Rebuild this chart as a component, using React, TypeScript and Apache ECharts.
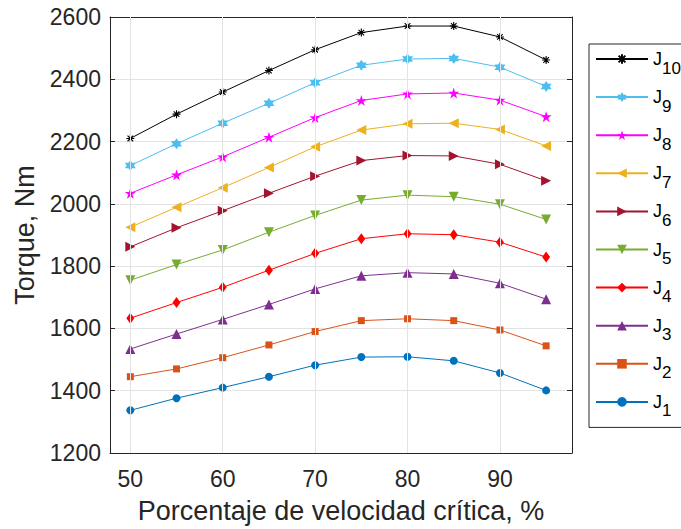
import React, { useEffect, useRef } from "react";
import * as echarts from "echarts";

const xValues = [50, 55, 60, 65, 70, 75, 80, 85, 90, 95];
const xTicks = [50, 60, 70, 80, 90];

const J1 = [1337, 1376, 1410, 1445, 1482, 1508, 1509, 1496, 1457, 1401];
const J2 = [1445, 1470, 1506, 1547, 1590, 1625, 1631, 1625, 1595, 1544];
const J3 = [1534, 1582, 1629, 1677, 1727, 1769, 1779, 1775, 1745, 1694];
const J4 = [1633, 1683, 1732, 1787, 1841, 1888, 1904, 1901, 1877, 1829];
const J5 = [1755, 1805, 1852, 1909, 1963, 2012, 2028, 2023, 1999, 1950];
const J6 = [1862, 1923, 1978, 2034, 2089, 2139, 2155, 2154, 2127, 2074];
const J7 = [1925, 1989, 2052, 2117, 2183, 2237, 2257, 2259, 2239, 2186];
const J8 = [2034, 2093, 2151, 2214, 2277, 2332, 2353, 2356, 2333, 2280];
const J9 = [2123, 2193, 2259, 2323, 2389, 2445, 2465, 2467, 2439, 2377];
const J10 = [2210, 2288, 2359, 2428, 2495, 2550, 2571, 2571, 2536, 2462];

const seriesNames = ["J1", "J2", "J3", "J4", "J5", "J6", "J7", "J8", "J9", "J10"];
const seriesValues = [J1, J2, J3, J4, J5, J6, J7, J8, J9, J10];
const seriesColors = [
  "#0072BD",
  "#D95319",
  "#7E2F8E",
  "#FF0000",
  "#77AC30",
  "#A2142F",
  "#EDB120",
  "#FF00FF",
  "#4DBEEE",
  "#000000",
];

const PENTAGRAM =
  "path://M10,0L12.245,6.91L19.511,6.91L13.633,11.18L15.878,18.09L10,13.82L4.122,18.09L6.367,11.18L0.489,6.91L7.755,6.91Z";
const HEXAGRAM =
  "path://M10,0L12.887,5L18.66,5L15.774,10L18.66,15L12.887,15L10,20L7.113,15L1.34,15L4.226,10L1.34,5L7.113,5Z";
const ASTERISK = "path://M5,0L5,10M0,5L10,5M1.5,1.5L8.5,8.5M1.5,8.5L8.5,1.5";

const seriesSymbols = [
  "circle",
  "rect",
  "triangle",
  "diamond",
  "path://M0,0L10,0L5,10Z",
  "path://M0,0L10,5L0,10Z",
  "path://M10,0L0,5L10,10Z",
  PENTAGRAM,
  HEXAGRAM,
  ASTERISK,
];
const seriesSymbolSizes: any[] = [8, 7, 10, [8, 11], 10, 10, 10, 11, 11, 8];

const FONT = "'Liberation Sans', Arial, Helvetica, sans-serif";
const AXIS_COLOR = "#262626";
const GRID_COLOR = "#e3e3e3";

export default function App() {
  const ref = useRef<HTMLDivElement>(null);
  useEffect(() => {
    if (!ref.current) return;
    const chart = echarts.init(ref.current, undefined, { renderer: "svg" });

    const lineSeries = seriesNames.map((name, i) => ({
      name,
      type: "line",
      xAxisIndex: 0,
      yAxisIndex: 0,
      data: xValues.map((x, k) => [x, seriesValues[i][k]]),
      symbol: seriesSymbols[i],
      symbolSize: seriesSymbolSizes[i],
      showSymbol: true,
      z: 3,
      lineStyle: { color: seriesColors[i], width: 1 },
      itemStyle:
        i === 9
          ? { color: seriesColors[i], borderColor: seriesColors[i], borderWidth: 1.1 }
          : { color: seriesColors[i], borderWidth: 0 },
      emphasis: { disabled: true },
    }));

    const gridSeries = {
      name: "grid",
      type: "line",
      xAxisIndex: 0,
      yAxisIndex: 0,
      data: [],
      z: 1,
      silent: true,
      markLine: {
        silent: true,
        symbol: ["none", "none"],
        label: { show: false },
        lineStyle: { color: GRID_COLOR, width: 1, type: "solid" },
        emphasis: { disabled: true },
        data: xTicks.map((x) => ({ xAxis: x })),
      },
    };

    const legendNames = [...seriesNames].reverse();

    chart.setOption({
      animation: false,
      backgroundColor: "#ffffff",
      textStyle: { fontFamily: FONT },
      grid: { left: 110, top: 17, width: 462, height: 436, containLabel: false },
      legend: {
        data: legendNames,
        orient: "vertical",
        left: 589,
        top: 44,
        itemWidth: 52,
        itemHeight: 12,
        itemGap: 11.6,
        padding: [6, 60, 8, 6],
        backgroundColor: "#ffffff",
        borderColor: AXIS_COLOR,
        borderWidth: 1,
        selectedMode: false,
        formatter: (name: string) => `{j|J}{s|${name.slice(1)}}`,
        textStyle: {
          fontFamily: FONT,
          color: "#000000",
          rich: {
            j: { fontSize: 18, fontFamily: FONT, color: "#000000" },
            s: { fontSize: 17, fontFamily: FONT, color: "#000000", padding: [18, 0, 0, 0] },
          },
        },
      },
      xAxis: [
        {
          type: "value",
          min: 47.8,
          max: 97.8,
          position: "bottom",
          name: "Porcentaje de velocidad crítica, %",
          nameLocation: "middle",
          nameGap: 44,
          nameTextStyle: { fontSize: 27, color: AXIS_COLOR, fontFamily: FONT },
          axisLine: { show: true, onZero: false, lineStyle: { color: AXIS_COLOR, width: 1 } },
          axisTick: {
            show: true,
            inside: true,
            length: 5,
            customValues: xTicks,
            lineStyle: { color: AXIS_COLOR },
          },
          axisLabel: {
            show: true,
            customValues: xTicks,
            margin: 14,
            fontSize: 23,
            color: AXIS_COLOR,
            fontFamily: FONT,
            formatter: (v: number) => String(v),
          },
          splitLine: { show: false },
        },
        {
          type: "value",
          min: 47.8,
          max: 97.8,
          position: "top",
          axisLine: { show: true, onZero: false, lineStyle: { color: AXIS_COLOR, width: 1 } },
          axisTick: {
            show: true,
            inside: true,
            length: 5,
            customValues: xTicks,
            lineStyle: { color: AXIS_COLOR },
          },
          axisLabel: { show: false },
          splitLine: { show: false },
        },
      ],
      yAxis: [
        {
          type: "value",
          min: 1200,
          max: 2600,
          interval: 200,
          position: "left",
          name: "Torque, Nm",
          nameLocation: "middle",
          nameGap: 70,
          nameTextStyle: { fontSize: 27, color: AXIS_COLOR, fontFamily: FONT },
          axisLine: { show: true, onZero: false, lineStyle: { color: AXIS_COLOR, width: 1 } },
          axisTick: { show: true, inside: true, length: 5, lineStyle: { color: AXIS_COLOR } },
          axisLabel: {
            show: true,
            margin: 9,
            fontSize: 23,
            color: AXIS_COLOR,
            fontFamily: FONT,
            formatter: (v: number) => String(v),
          },
          splitLine: { show: true, lineStyle: { color: GRID_COLOR, width: 1 } },
        },
        {
          type: "value",
          min: 1200,
          max: 2600,
          interval: 200,
          position: "right",
          axisLine: { show: true, onZero: false, lineStyle: { color: AXIS_COLOR, width: 1 } },
          axisTick: { show: true, inside: true, length: 5, lineStyle: { color: AXIS_COLOR } },
          axisLabel: { show: false },
          splitLine: { show: false },
        },
      ],
      series: [gridSeries, ...lineSeries],
    });

    return () => {
      chart.dispose();
    };
  }, []);

  return (
    <div
      ref={ref}
      style={{ position: "fixed", left: 0, top: 0, width: 681, height: 529, background: "#ffffff" }}
    />
  );
}
